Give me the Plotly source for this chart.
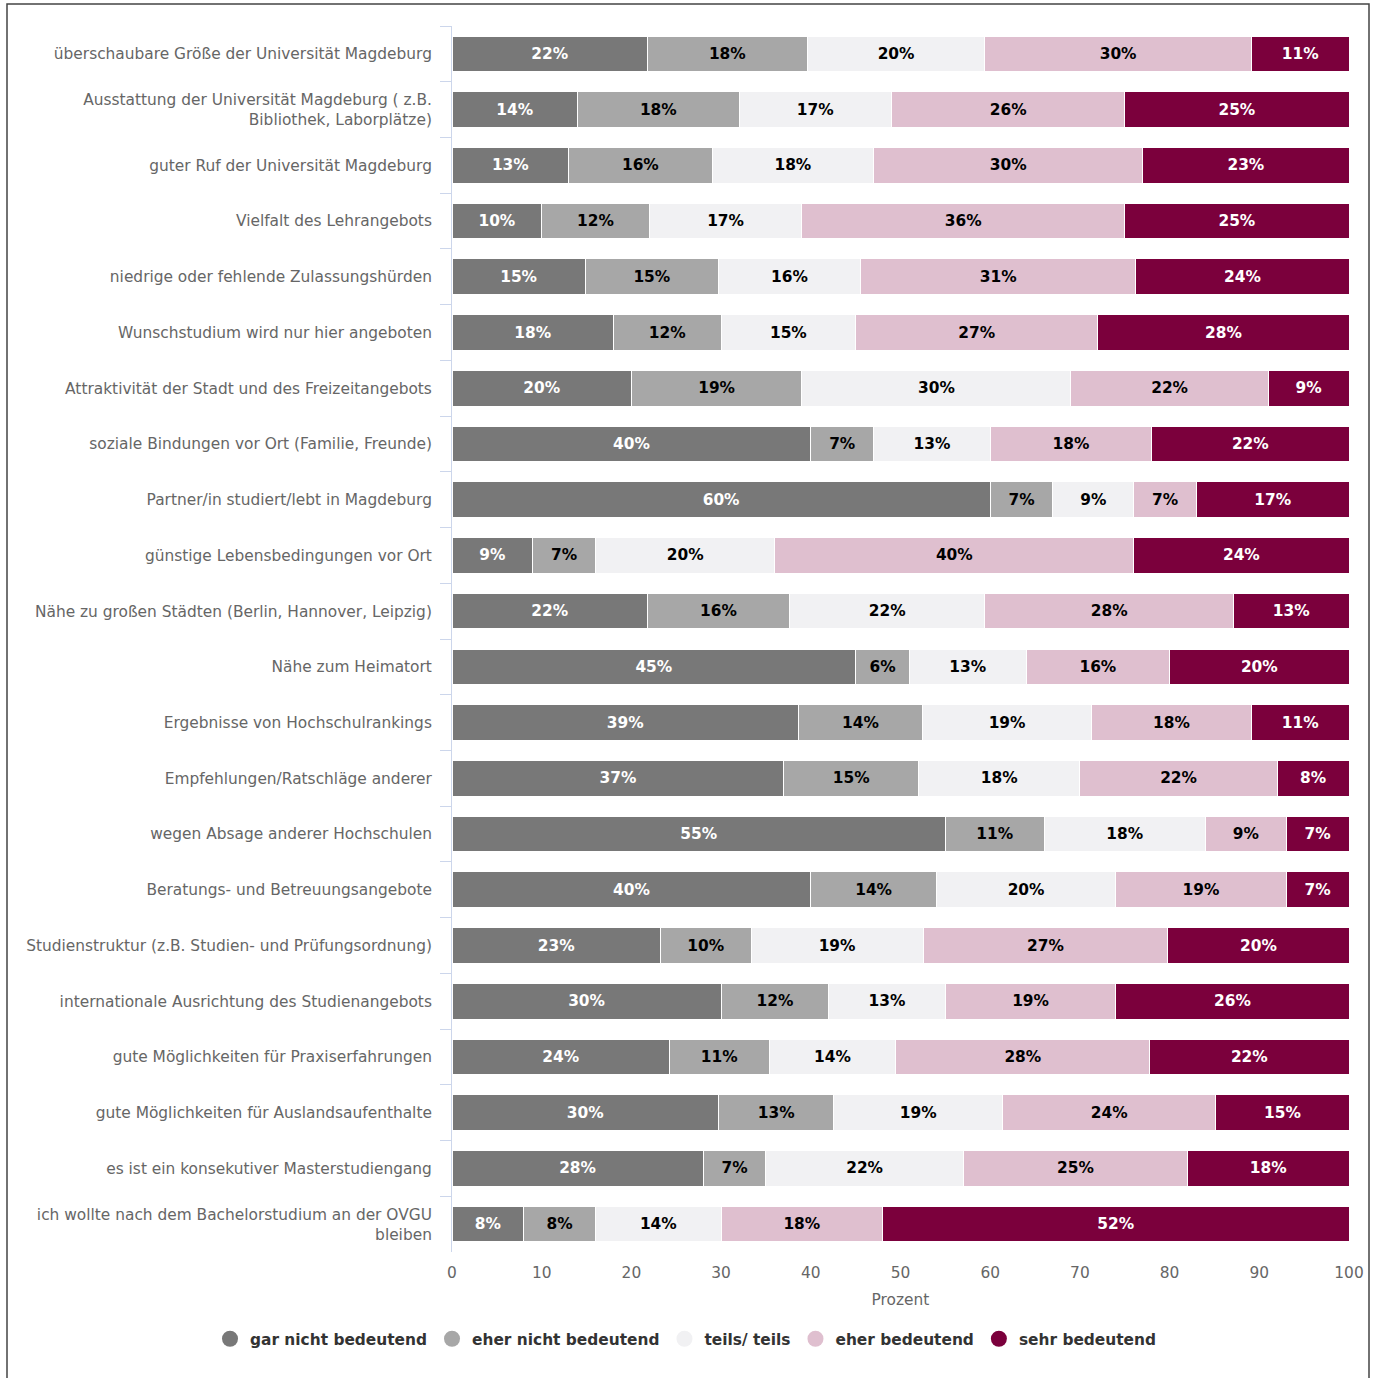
import plotly.graph_objects as go

categories = [
    "überschaubare Größe der Universität Magdeburg",
    "Ausstattung der Universität Magdeburg ( z.B.<br>Bibliothek, Laborplätze)",
    "guter Ruf der Universität Magdeburg",
    "Vielfalt des Lehrangebots",
    "niedrige oder fehlende Zulassungshürden",
    "Wunschstudium wird nur hier angeboten",
    "Attraktivität der Stadt und des Freizeitangebots",
    "soziale Bindungen vor Ort (Familie, Freunde)",
    "Partner/in studiert/lebt in Magdeburg",
    "günstige Lebensbedingungen vor Ort",
    "Nähe zu großen Städten (Berlin, Hannover, Leipzig)",
    "Nähe zum Heimatort",
    "Ergebnisse von Hochschulrankings",
    "Empfehlungen/Ratschläge anderer",
    "wegen Absage anderer Hochschulen",
    "Beratungs- und Betreuungsangebote",
    "Studienstruktur (z.B. Studien- und Prüfungsordnung)",
    "internationale Ausrichtung des Studienangebots",
    "gute Möglichkeiten für Praxiserfahrungen",
    "gute Möglichkeiten für Auslandsaufenthalte",
    "es ist ein konsekutiver Masterstudiengang",
    "ich wollte nach dem Bachelorstudium an der OVGU<br>bleiben",
]

gar_nicht = [22, 14, 13, 10, 15, 18, 20, 40, 60, 9, 22, 45, 39, 37, 55, 40, 23, 30, 24, 30, 28, 8]
eher_nicht = [18, 18, 16, 12, 15, 12, 19, 7, 7, 7, 16, 6, 14, 15, 11, 14, 10, 12, 11, 13, 7, 8]
teils = [20, 17, 18, 17, 16, 15, 30, 13, 9, 20, 22, 13, 19, 18, 18, 20, 19, 13, 14, 19, 22, 14]
eher = [30, 26, 30, 36, 31, 27, 22, 18, 7, 40, 28, 16, 18, 22, 9, 19, 27, 19, 28, 24, 25, 18]
sehr = [11, 25, 23, 25, 24, 28, 9, 22, 17, 24, 13, 20, 11, 8, 7, 7, 20, 26, 22, 15, 18, 52]

series_names = ["gar nicht bedeutend", "eher nicht bedeutend", "teils/ teils",
                "eher bedeutend", "sehr bedeutend"]
series_values = [gar_nicht, eher_nicht, teils, eher, sehr]
colors = ["#787878", "#a7a7a7", "#f1f1f3", "#dfbfcf", "#7b003c"]
text_colors = ["#ffffff", "#000000", "#000000", "#000000", "#ffffff"]

x_ticks = [0, 10, 20, 30, 40, 50, 60, 70, 80, 90, 100]

FONT = "DejaVu Sans"
FS = 15.4

W, H = 1375, 1378
PL, PR, PT, PB = 452, 1349, 26.1, 1251.8  # plot area in page pixels

fig = go.Figure()
for name, vals, col, tcol in zip(series_names, series_values, colors, text_colors):
    fig.add_trace(go.Bar(
        y=categories, x=vals, name=name, orientation="h",
        marker=dict(color=col, line=dict(color="#ffffff", width=1)),
        text=[f"{v}%" for v in vals], textposition="inside",
        insidetextanchor="middle", constraintext="none",
        textfont=dict(family=FONT, size=FS, color=tcol, weight="bold"),
        showlegend=False, hoverinfo="skip",
    ))
    fig.add_trace(go.Scatter(
        x=[None], y=[None], mode="markers", name=name,
        marker=dict(symbol="circle", size=16, color=col),
        showlegend=True,
    ))

pw = PR - PL
ph = PB - PT
fig.update_layout(
    barmode="stack", barnorm="percent", bargap=0.36,
    width=W, height=H,
    margin=dict(l=PL, r=W - PR, t=PT, b=H - PB, pad=0),
    paper_bgcolor="#ffffff", plot_bgcolor="#ffffff",
    font=dict(family=FONT, size=FS, color="#666666"),
    xaxis=dict(
        range=[0, 100], tickvals=x_ticks, showgrid=False, zeroline=False,
        showline=False, ticks="", ticklabelstandoff=10,
        tickfont=dict(family=FONT, size=FS, color="#666666"),
        title=dict(text="Prozent", font=dict(family=FONT, size=FS, color="#666666"), standoff=12),
    ),
    yaxis=dict(
        autorange="reversed", type="category", showgrid=False,
        showline=True, linecolor="#ccd6eb", linewidth=1,
        ticks="outside", tickson="boundaries", ticklen=11, tickcolor="#ccd6eb",
        ticklabelstandoff=16,
        tickfont=dict(family=FONT, size=FS, color="#666666"),
    ),
    legend=dict(
        orientation="h", xref="paper", x=(210 - PL) / pw, xanchor="left",
        yref="paper", y=(PB - 1339) / ph, yanchor="middle",
        traceorder="normal",
        font=dict(family=FONT, size=FS, color="#333333", weight="bold"),
    ),
    shapes=[dict(
        type="rect", xref="paper", yref="paper",
        x0=(7 - PL) / pw, x1=(1369 - PL) / pw,
        y0=(PB - 1400) / ph, y1=(PB - 4) / ph,
        line=dict(color="#444444", width=1.5), fillcolor="rgba(0,0,0,0)", layer="below",
    )],
)

fig.write_html("out.html", post_script="document.body.style.margin='0px';",
               config={"displayModeBar": False})
